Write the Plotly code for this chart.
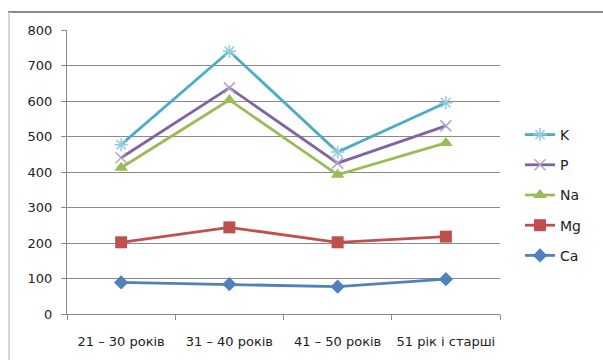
import plotly.graph_objects as go

# Age groups along the x axis
age_groups = ["21 – 30 років", "31 – 40 років", "41 – 50 років", "51 рік і старші"]

# Element content per age group
ca_values = [89, 84, 77, 98]
mg_values = [202, 244, 202, 218]
na_values = [412, 603, 392, 482]
p_values = [440, 637, 425, 530]
k_values = [477, 740, 456, 595]

y_ticks = [0, 100, 200, 300, 400, 500, 600, 700, 800]

W, H = 603, 360
L, R, T, B = 67, 103, 30, 46
plot_w = W - L - R
plot_h = H - T - B

FONT = "DejaVu Sans"

series = [
    # name, values, line colour, marker symbol, marker size, marker colour, legend rank
    ("Ca", ca_values, "#4F81BD", "diamond", 11, "#4F81BD", 5),
    ("Mg", mg_values, "#C0504D", "square", 12, "#C0504D", 4),
    ("Na", na_values, "#9BBB59", "triangle-up", 12, "#9BBB59", 3),
    ("P", p_values, "#8064A2", "x-thin-open", 11, "#B3A2CC", 2),
    ("K", k_values, "#4BACC6", "asterisk-open", 11, "#93CDDD", 1),
]

fig = go.Figure()
for name, vals, color, symbol, size, mcolor, rank in series:
    open_marker = symbol.endswith("open")
    fig.add_trace(go.Scatter(
        x=age_groups, y=vals, name=name, mode="lines+markers",
        legendgroup=name, legendrank=rank,
        line=dict(color=color, width=2.8),
        marker=dict(
            symbol=symbol, size=size, color=mcolor,
            line=dict(color=mcolor, width=1.5 if open_marker else 0),
        ),
    ))

def px_x(px):
    return (px - L) / plot_w

def px_y(py):
    return (H - B - py) / plot_h

# Chart frame: darker top edge, light left edge
fig.add_shape(type="line", xref="paper", yref="paper",
              x0=px_x(8), x1=px_x(605), y0=px_y(12), y1=px_y(12),
              line=dict(color="#8A8A8A", width=2))
fig.add_shape(type="line", xref="paper", yref="paper",
              x0=px_x(9), x1=px_x(9), y0=px_y(12), y1=px_y(362),
              line=dict(color="#C8C8C8", width=1.5))

fig.update_layout(
    width=W, height=H,
    margin=dict(l=L, r=R, t=T, b=B, pad=0),
    paper_bgcolor="white", plot_bgcolor="white",
    font=dict(family=FONT, size=13, color="#222222"),
    showlegend=True,
    legend=dict(
        x=px_x(520), y=px_y(119), xanchor="left", yanchor="top",
        traceorder="grouped", tracegroupgap=9,
        font=dict(family=FONT, size=14, color="#222222"),
        bgcolor="rgba(0,0,0,0)", itemwidth=30,
    ),
    xaxis=dict(
        type="category", range=[-0.5, 3.5],
        showline=True, linecolor="#8A8A8A", linewidth=1,
        ticks="outside", tickson="boundaries", ticklen=5, tickcolor="#8A8A8A",
        showgrid=False, zeroline=False,
        ticklabelstandoff=15,
        tickfont=dict(family=FONT, size=13, color="#222222"),
    ),
    yaxis=dict(
        range=[0, 800], tickvals=y_ticks,
        showline=True, linecolor="#8A8A8A", linewidth=1,
        ticks="outside", ticklen=5, tickcolor="#8A8A8A",
        showgrid=True, gridcolor="#8A8A8A", gridwidth=1,
        zeroline=False,
        ticklabelstandoff=6,
        tickfont=dict(family=FONT, size=13, color="#222222"),
    ),
)

fig.write_html("out.html")
